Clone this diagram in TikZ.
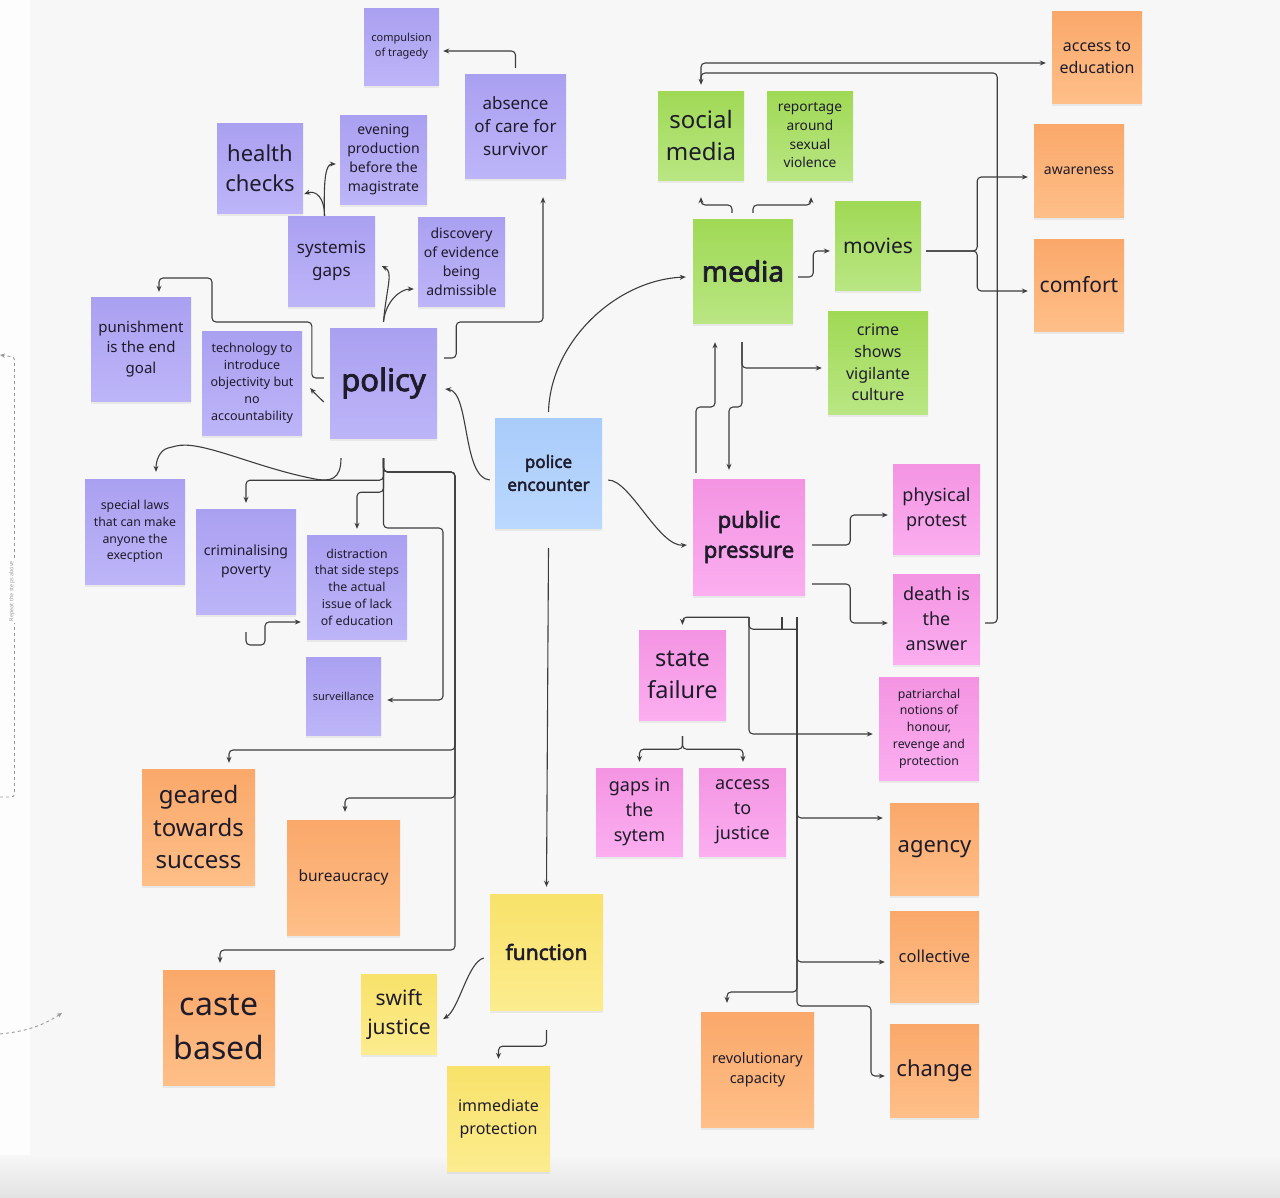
\documentclass[tikz,border=0pt]{standalone}
\usepackage{fontspec}
\setmainfont{Noto Sans}
\IfFontExistsTF{Noto Sans Bold}
  {\newfontfamily\notebold{Noto Sans Bold}}
  {\newfontfamily\notebold{Noto Sans}[FakeBold=2.5]}
\usepackage{xcolor}
\definecolor{cPurpleTop}{HTML}{AAA0F1}
\definecolor{cPurpleBot}{HTML}{BDB5F8}
\definecolor{cBlueTop}{HTML}{A9CCFA}
\definecolor{cBlueBot}{HTML}{BBD8FE}
\definecolor{cGreenTop}{HTML}{A0D955}
\definecolor{cGreenBot}{HTML}{B9E683}
\definecolor{cOrangeTop}{HTML}{FAA86A}
\definecolor{cOrangeBot}{HTML}{FEBF88}
\definecolor{cPinkTop}{HTML}{F494E2}
\definecolor{cPinkBot}{HTML}{FBAEF0}
\definecolor{cYellowTop}{HTML}{F8E26A}
\definecolor{cYellowBot}{HTML}{FCEC8E}
\definecolor{cInk}{HTML}{1E1B2A}
\definecolor{cLine}{HTML}{3D3D3D}
\definecolor{cCanvas}{HTML}{F7F7F7}
\definecolor{cStrip}{HTML}{FDFDFD}
\definecolor{cHint}{HTML}{9A9A9A}
\usepackage{tikz}
\usetikzlibrary{arrows.meta,calc,shadows}
\tikzset{
  note/.style={inner sep=0pt,align=center,text=cInk,
    drop shadow={shadow xshift=0pt,shadow yshift=-2.5pt,opacity=0.12}},
  note-size/.style 2 args={minimum width=#1pt,minimum height=#2pt},
  txt/.style 2 args={font=\fontsize{#1}{#2}\selectfont},
  note-purple/.style={note,top color=cPurpleTop,bottom color=cPurpleBot},
  note-blue/.style={note,top color=cBlueTop,bottom color=cBlueBot},
  note-green/.style={note,top color=cGreenTop,bottom color=cGreenBot},
  note-orange/.style={note,top color=cOrangeTop,bottom color=cOrangeBot},
  note-pink/.style={note,top color=cPinkTop,bottom color=cPinkBot},
  note-yellow/.style={note,top color=cYellowTop,bottom color=cYellowBot},
  arrow/.style={-{Stealth[length=6pt,width=5pt]},line width=1.1pt,draw=cLine,rounded corners=4pt},
  arrow-plain/.style={line width=1.1pt,draw=cLine,rounded corners=4pt},
  arrow-hint/.style={-{Stealth[length=5pt,width=4.5pt]},line width=0.9pt,draw=cHint,
    dash pattern=on 3pt off 3pt,rounded corners=3pt},
}

\begin{document}
\begin{tikzpicture}[x=1pt,y=-1pt]
  \fill[cCanvas] (0,0) rectangle (1280,1197);
  \fill[cStrip] (0,0) rectangle (30,1197);
  \shade[top color=cCanvas,bottom color=black!11] (0,1155) rectangle (1280,1197);
  \useasboundingbox (0,0) rectangle (1280,1197);

  % policy cluster
  \node[note-purple,note-size={75}{77},txt={11}{15}]       (tragedy)   at (401.5,46.5) {compulsion\\of tragedy};
  \node[note-purple,note-size={101}{104},txt={17}{23}]     (absence)   at (515.5,126)  {absence\\of care for\\survivor};
  \node[note-purple,note-size={86}{90},txt={22}{30}]       (health)    at (260,168)    {health\\checks};
  \node[note-purple,note-size={87}{89},txt={14}{19}]       (evening)   at (383.5,159.5) {evening\\production\\before the\\magistrate};
  \node[note-purple,note-size={87}{90},txt={17}{23}]       (gaps)      at (331.5,261)  {systemis\\gaps};
  \node[note-purple,note-size={87}{89},txt={14}{19}]       (discovery) at (461.5,261.5) {discovery\\of evidence\\being\\admissible};
  \node[note-purple,note-size={100}{104},txt={15}{20.5}]   (punish)    at (141,349)    {punishment\\is the end\\goal};
  \node[note-purple,note-size={100}{104},txt={12.5}{17}]   (techno)    at (252,383)    {technology to\\introduce\\objectivity but\\no\\accountability};
  \node[note-purple,note-size={107}{110},txt={31}{36}]     (policy)    at (383.5,383)  {\notebold policy};
  \node[note-purple,note-size={100}{105},txt={12.3}{16.7}] (speclaws)  at (135,531.5)  {special laws\\that can make\\anyone the\\execption};
  \node[note-purple,note-size={100}{105},txt={14}{19}]     (poverty)   at (246,561.5)  {criminalising\\poverty};
  \node[note-purple,note-size={100}{104},txt={12.3}{16.7}] (distract)  at (357,587)    {distraction\\that side steps\\the actual\\issue of lack\\of education};
  \node[note-purple,note-size={75}{78},txt={11}{14}]       (surveil)   at (343.5,696)  {surveillance};

  \node[note-blue,note-size={107}{110},txt={17}{23}]       (police)    at (548.5,473)  {\notebold police\\\notebold encounter};

  % media cluster
  \node[note-green,note-size={86}{89},txt={24}{32}]        (social)    at (701,135.5)  {social\\media};
  \node[note-green,note-size={86}{89},txt={13.7}{18.7}]    (reportage) at (810,135.5)  {reportage\\around\\sexual\\violence};
  \node[note-green,note-size={100}{104},txt={28}{32}]      (media)     at (743,271)    {\notebold media};
  \node[note-green,note-size={86}{89},txt={21}{25}]        (movies)    at (878,245.5)  {movies};
  \node[note-green,note-size={100}{103},txt={16}{21.7}]    (crime)     at (878,362.5)  {crime\\shows\\vigilante\\culture};

  \node[note-orange,note-size={90}{92},txt={16}{22}]       (education) at (1097,57)    {access to\\education};
  \node[note-orange,note-size={90}{93},txt={14}{18}]       (awareness) at (1079,170.5) {awareness};
  \node[note-orange,note-size={90}{92},txt={21}{25}]       (comfort)   at (1079,285)   {comfort};
  \node[note-orange,note-size={113}{116},txt={24}{32.5}]   (geared)    at (198.5,827)  {geared\\towards\\success};
  \node[note-orange,note-size={113}{115},txt={15.5}{20}]   (bureau)    at (343.5,877.5) {bureaucracy};
  \node[note-orange,note-size={112}{115},txt={32}{44}]     (caste)     at (219,1027.5) {caste\\based};
  \node[note-orange,note-size={89}{92},txt={22}{26}]       (agency)    at (934.5,849)  {agency};
  \node[note-orange,note-size={89}{91},txt={16.5}{20}]     (collective) at (934.5,956.5) {collective};
  \node[note-orange,note-size={89}{93},txt={22}{26}]       (change)    at (934.5,1070.5) {change};
  \node[note-orange,note-size={113}{115},txt={14.5}{20}]   (revol)     at (757.5,1069.5) {revolutionary\\capacity};

  % public pressure cluster
  \node[note-pink,note-size={112}{116},txt={22}{30}]       (pressure)  at (749,537)    {\notebold public\\\notebold pressure};
  \node[note-pink,note-size={87}{90},txt={18}{25}]         (protest)   at (936.5,509)  {physical\\protest};
  \node[note-pink,note-size={87}{90},txt={18}{25}]         (death)     at (936.5,619)  {death is\\the\\answer};
  \node[note-pink,note-size={100}{103},txt={12.3}{16.8}]   (patri)     at (929,728.5)  {patriarchal\\notions of\\honour,\\revenge and\\protection};
  \node[note-pink,note-size={87}{90},txt={23.5}{32}]       (failure)   at (682.5,675)  {state\\failure};
  \node[note-pink,note-size={87}{88},txt={18}{25}]         (gapsys)    at (639.5,812)  {gaps in\\the\\sytem};
  \node[note-pink,note-size={87}{88},txt={18}{25}]         (justice)   at (742.5,812)  {access\\to\\justice};

  \node[note-yellow,note-size={113}{116},txt={21}{25}]     (function)  at (546.5,952)  {\notebold function};
  \node[note-yellow,note-size={76}{80},txt={21}{29}]       (swift)     at (399,1014)   {swift\\justice};
  \node[note-yellow,note-size={103}{105},txt={16}{23}]     (immed)     at (498.5,1118.5) {immediate\\protection};

  % connectors around policy
  \draw[arrow] ([yshift=6pt]absence.north) |- ([xshift=4pt,yshift=-4.5pt]tragedy.east);
  \draw[arrow] ([xshift=-7pt]gaps.north) .. controls +(0,-18) and +(12,-4) .. ([xshift=1pt,yshift=-26pt]health.east);
  \draw[arrow] ([xshift=-7pt]gaps.north) .. controls +(-1,-38) and +(-10,0) .. ([xshift=-4pt,yshift=-4.5pt]evening.west);
  \draw[arrow] ([yshift=6pt]policy.north) .. controls +(3,-35) and +(12,6) .. ([xshift=6.5pt,yshift=-5pt]gaps.east);
  \draw[arrow] ([yshift=6pt]policy.north) .. controls +(2,-20) and +(-14,0) .. ([xshift=-4pt,yshift=-27.5pt]discovery.west);
  \draw[arrow] ([xshift=-6pt,yshift=5pt]policy.west) -- ++(-12,0) |- (212,322) -- (212,278)
    -| ([xshift=18pt,yshift=5pt]punish.north);
  \draw[arrow] ([xshift=-6pt,yshift=-19pt]policy.west) .. controls +(-5,-5) and +(5,6) .. ([xshift=8pt,yshift=-5pt]techno.east);
  \draw[arrow] ([xshift=7pt,yshift=25pt]policy.east) -- ++(12,0) |- (500,322) -| ([xshift=27.5pt,yshift=-19pt]absence.south);
  \draw[arrow] ([xshift=-5pt,yshift=-7pt]police.west) .. controls (462,478) and (470,392) .. ([xshift=8pt,yshift=-6pt]policy.east);
  \draw[arrow] ([xshift=-42.5pt,yshift=-20pt]policy.south) .. controls (341,480) and (330,482) .. (310,478)
    .. controls (250,465) and (200,440) .. (172,447) .. controls (160,450) and (156,460) .. ([xshift=21pt,yshift=7pt]speclaws.north);

  \coordinate (policy-foot) at ([yshift=-20pt]policy.south);
  \draw[arrow] (policy-foot) -- ++(0,22) -| ([yshift=6pt]poverty.north);
  \draw[arrow] (policy-foot) -- ++(0,34) -| ([yshift=6pt]distract.north);
  \draw[arrow] (policy-foot) |- (443,528) |- ([xshift=6pt,yshift=-4pt]surveil.east);
  \draw[arrow] (policy-foot) |- (455,472) |- (229,750) -- ([xshift=30.5pt,yshift=6pt]geared.north);
  \draw[arrow] (policy-foot) |- (455,472) |- (345,798) -- ([xshift=1.5pt,yshift=8pt]bureau.north);
  \draw[arrow] (policy-foot) |- (455,472) |- (220,950) -- ([xshift=1pt,yshift=7pt]caste.north);
  \draw[arrow] ([yshift=-18pt]poverty.south) |- (265,645) |- ([xshift=-6pt,yshift=-35pt]distract.west);

  % connectors around media
  \draw[arrow] ([yshift=6pt]police.north) .. controls +(2,-70) and +(-70,3) .. ([xshift=-7pt,yshift=-6pt]media.west);
  \draw[arrow] ([xshift=-11pt,yshift=6pt]media.north) |- (701,205) -- ([yshift=-17pt]social.south);
  \draw[arrow] ([xshift=10pt,yshift=6pt]media.north) |- (811,205) -- ([xshift=1pt,yshift=-17pt]reportage.south);
  \draw[arrow] ([xshift=5pt,yshift=-6pt]media.east) -- ++(15,0) |- ([xshift=-5pt,yshift=-5.5pt]movies.west);
  \coordinate (movies-out) at ([xshift=5pt,yshift=-5.5pt]movies.east);
  \draw[arrow] (movies-out) -- ++(51,0) |- ([xshift=-6pt,yshift=-6.5pt]awareness.west);
  \draw[arrow] (movies-out) -- ++(51,0) |- ([xshift=-6pt,yshift=-6pt]comfort.west);
  \coordinate (media-foot) at ([xshift=-1pt,yshift=-19pt]media.south);
  \draw[arrow] (media-foot) |- (729,407) -- ([xshift=-20pt,yshift=9pt]pressure.north);
  \draw[arrow] (media-foot) |- ([xshift=-6pt,yshift=-5.5pt]crime.west);
  \draw[arrow] ([xshift=-53pt,yshift=6pt]pressure.north) |- (715,407) -- ([xshift=-28pt,yshift=-19pt]media.south);
  \draw[arrow] ([xshift=5pt,yshift=-4pt]death.east) -- ++(12,0) |- (701,73) -- ([yshift=6pt]social.north);
  \draw[arrow] ([yshift=11pt]social.north) |- ([xshift=-6pt,yshift=-6pt]education.west);

  % connectors around public pressure
  \draw[arrow] ([xshift=6pt,yshift=-7pt]police.east) .. controls +(22,0) and +(-28,2) .. ([xshift=-6pt,yshift=-8pt]pressure.west);
  \draw[arrow] ([xshift=7pt,yshift=-8pt]pressure.east) -- ++(38,0) |- ([xshift=-5pt,yshift=-6pt]protest.west);
  \draw[arrow] ([xshift=7pt,yshift=-47pt]pressure.east) -- ++(38,0) |- ([xshift=-5pt,yshift=-4pt]death.west);
  \coordinate (pressure-foot) at ([yshift=-22pt]pressure.south);
  \coordinate (pressure-spine) at ([xshift=48pt,yshift=-22pt]pressure.south);
  \draw[arrow] (pressure-foot) -| ([yshift=5pt]failure.north);
  \draw[arrow] (pressure-foot) |- ([xshift=-6pt,yshift=-5.5pt]patri.west);
  \draw[arrow-plain] (pressure-foot) |- ([xshift=48pt,yshift=-34pt]pressure.south);
  \draw[arrow-plain] ([xshift=33pt,yshift=-22pt]pressure.south) -- ++(0,12);
  \draw[arrow] (pressure-spine) |- ([xshift=-7pt,yshift=31pt]agency.west);
  \draw[arrow] (pressure-spine) |- ([xshift=-5pt,yshift=-5.5pt]collective.west);
  \draw[arrow] (pressure-spine) |- (727,992) -- ([xshift=-30.5pt,yshift=9pt]revol.north);
  \draw[arrow] (pressure-spine) |- (871,1006) |- ([xshift=-5pt,yshift=-5.5pt]change.west);
  \coordinate (failure-foot) at ([yshift=-16pt]failure.south);
  \draw[arrow] (failure-foot) -- ++(0,13) -| ([yshift=6pt]gapsys.north);
  \draw[arrow] (failure-foot) -- ++(0,13) -| ([xshift=0.5pt,yshift=6pt]justice.north);

  % connectors around function
  \draw[arrow] ([yshift=-20pt]police.south) -- ([yshift=7pt]function.north);
  \draw[arrow] ([xshift=-6pt,yshift=-6pt]function.west) .. controls +(-16,4) and +(16,-10) .. ([xshift=6pt,yshift=-5pt]swift.east);
  \draw[arrow] ([yshift=-20pt]function.south) -- ++(0,16) -| ([yshift=7pt]immed.north);

  % cut-off hints at the left edge
  \coordinate (hint-top) at (0,355);
  \coordinate (hint-bot) at (0,797);
  \coordinate (hint-in)  at (0,1034);
  \coordinate (hint-out) at (62,1013);
  \draw[arrow-hint] (hint-bot) -- (14.5,797) -- (14.5,357) -- (hint-top);
  \node[rotate=90,txt={5.5}{6},text=cHint,fill=cStrip,inner sep=1.5pt] (hint-text) at (12,591) {Repeat the steps above};
  \draw[arrow-hint] (hint-in) .. controls (30,1031) and (45,1024) .. (hint-out);
\end{tikzpicture}
\end{document}
